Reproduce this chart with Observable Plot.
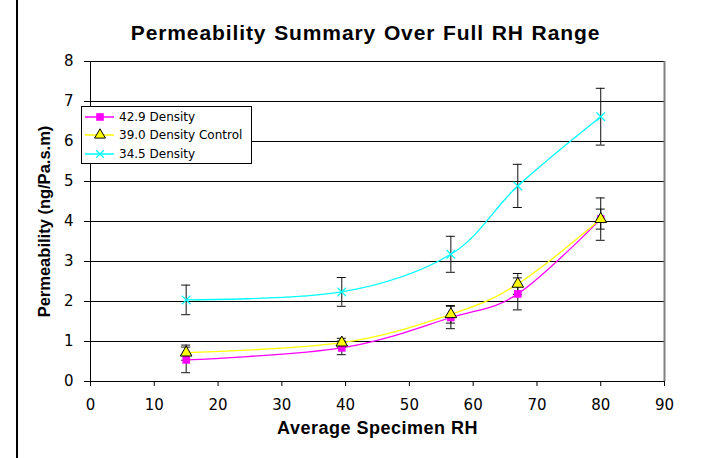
<!DOCTYPE html>
<html>
<head>
<meta charset="utf-8">
<script src="https://cdn.jsdelivr.net/npm/d3@7"></script>
<script src="https://cdn.jsdelivr.net/npm/@observablehq/plot@0.6"></script>
<style>
  html, body { margin: 0; padding: 0; background: #fff; }
  #wrap { position: relative; width: 702px; height: 458px; overflow: hidden; background: #fff; }
  #edge { position: absolute; left: 16px; top: 0; width: 2px; height: 458px; background: #000; }
  #legend { position: absolute; left: 81px; top: 106px; width: 169px; height: 55px; border: 1px solid #000; background: #fff;
            font-family: "DejaVu Sans", sans-serif; font-size: 12px; color: #000; padding-top: 1px; }
  #legend .row { height: 18.3px; display: flex; align-items: center; }
  #legend svg { width: 34px; height: 18px; margin-left: 2px; flex: none; }
  #legend span { margin-left: 1px; white-space: nowrap; }
  .title text { letter-spacing: 0.9px; word-spacing: 1px; }
  .xlabel text { letter-spacing: 0.5px; }
</style>
</head>
<body>
<div id="wrap"><div id="edge"></div></div>
<script>
// ---- data ----
const rh = [15, 39.4, 56.5, 67, 80];
const dens429 = [0.54, 0.84, 1.60, 2.19, 4.06];
const dens429Err = [0.32, 0.17, 0.28, 0.40, 0.53];
const dens390 = [0.72, 0.97, 1.68, 2.44, 4.06];
const dens390Err = [0.19, 0.11, 0.22, 0.26, 0.25];
const dens345 = [2.04, 2.24, 3.18, 4.89, 6.62];
const dens345Err = [0.37, 0.36, 0.45, 0.54, 0.71];
const seriesNames = ["42.9 Density", "39.0 Density Control", "34.5 Density"];
const seriesColors = ["#FF00FF", "#FFFF00", "#00FFFF"];
const xTicks = [0, 10, 20, 30, 40, 50, 60, 70, 80, 90];
const yTicks = [0, 1, 2, 3, 4, 5, 6, 7, 8];
const titleText = "Permeability Summary Over Full RH Range";
const xLabel = "Average Specimen RH";
const yLabel = "Permeability (ng/Pa.s.m)";

// ---- table ----
const seriesVals = [dens429, dens390, dens345];
const seriesErrs = [dens429Err, dens390Err, dens345Err];
const rows = [];
seriesNames.forEach((s, i) => rh.forEach((x, j) => rows.push({series: s, x, y: seriesVals[i][j], e: seriesErrs[i][j]})));
const bySeries = s => rows.filter(d => d.series === s);

const chart = Plot.plot({
  width: 702,
  height: 458,
  marginLeft: 90,
  marginRight: 38,
  marginTop: 61,
  marginBottom: 77,
  style: {fontFamily: "'DejaVu Sans', sans-serif", fontSize: "15px", color: "#000", background: "#fff", overflow: "visible"},
  x: {domain: [xTicks[0], xTicks[xTicks.length - 1]]},
  y: {domain: [yTicks[0], yTicks[yTicks.length - 1]]},
  color: {domain: seriesNames, range: seriesColors},
  marks: [
    Plot.ruleY(yTicks.slice(1), {stroke: "#000", strokeWidth: 1}),
    Plot.ruleX(xTicks.slice(-1), {stroke: "#808080", strokeWidth: 2}),
    Plot.ruleY(yTicks.slice(0, 1), {stroke: "#000", strokeWidth: 1}),
    Plot.ruleX(xTicks.slice(0, 1), {stroke: "#000", strokeWidth: 1}),
    Plot.axisX({ticks: xTicks, tickSize: 5, tickPadding: 13, label: null, stroke: "#000"}),
    Plot.axisY({ticks: yTicks, tickSize: 6, tickPadding: 11, label: null, stroke: "#000"}),
    Plot.line(rows, {x: "x", y: "y", z: "series", stroke: "series", curve: "cardinal", strokeWidth: 1.3}),
    Plot.ruleX(rows, {x: "x", y1: d => d.y - d.e, y2: d => d.y + d.e, stroke: "#111", strokeWidth: 1}),
    Plot.ruleY(rows, {y: d => d.y + d.e, x1: "x", x2: "x", insetLeft: -4.5, insetRight: -4.5, stroke: "#111", strokeWidth: 1}),
    Plot.ruleY(rows, {y: d => d.y - d.e, x1: "x", x2: "x", insetLeft: -4.5, insetRight: -4.5, stroke: "#111", strokeWidth: 1}),
    Plot.dot(bySeries(seriesNames[0]), {x: "x", y: "y", symbol: "square", fill: seriesColors[0], r: 4.3}),
    Plot.dot(bySeries(seriesNames[1]), {x: "x", y: "y", symbol: "triangle", fill: seriesColors[1], stroke: "#000", strokeWidth: 1, r: 4.3}),
    Plot.dot(bySeries(seriesNames[2]), {x: "x", y: "y", symbol: "times", stroke: seriesColors[2], strokeWidth: 1.3, r: 4}),
    Plot.text([titleText], {text: d => d, frameAnchor: "top", dy: -36, dx: -12, fontSize: 21, fontWeight: "bold",
      fontFamily: "'Liberation Sans', Arial, sans-serif", fill: "#000", className: "title"}),
    Plot.text([xLabel], {text: d => d, frameAnchor: "bottom", dy: 52, fontSize: 18, fontWeight: "bold",
      fontFamily: "'Liberation Sans', Arial, sans-serif", fill: "#000", className: "xlabel"}),
    Plot.text([yLabel], {text: d => d, frameAnchor: "left", textAnchor: "middle", dx: -46, rotate: -90, fontSize: 16.5, fontWeight: "bold",
      fontFamily: "'Liberation Sans', Arial, sans-serif", fill: "#000"})
  ]
});
const wrap = document.getElementById("wrap");
wrap.insertBefore(chart, wrap.firstChild);
chart.style.position = "absolute";
chart.style.left = "0px";
chart.style.top = "0px";

// ---- legend ----
const legend = document.createElement("div");
legend.id = "legend";
const symbols = [d3.symbolSquare, d3.symbolTriangle, d3.symbolTimes];
const symSizes = [58, 50, 40];
seriesNames.forEach((name, i) => {
  const row = document.createElement("div");
  row.className = "row";
  const svg = d3.create("svg").attr("viewBox", "0 0 34 18");
  svg.append("line").attr("x1", 1).attr("x2", 30).attr("y1", 9).attr("y2", 9)
    .attr("stroke", seriesColors[i]).attr("stroke-width", 1.5);
  const p = svg.append("path").attr("transform", "translate(16,9)")
    .attr("d", d3.symbol(symbols[i], symSizes[i])());
  if (i === 0) p.attr("fill", seriesColors[i]);
  if (i === 1) p.attr("fill", seriesColors[i]).attr("stroke", "#000").attr("stroke-width", 1);
  if (i === 2) p.attr("fill", "none").attr("stroke", seriesColors[i]).attr("stroke-width", 1.3);
  row.appendChild(svg.node());
  const span = document.createElement("span");
  span.textContent = name;
  row.appendChild(span);
  legend.appendChild(row);
});
wrap.appendChild(legend);
</script>
</body>
</html>
